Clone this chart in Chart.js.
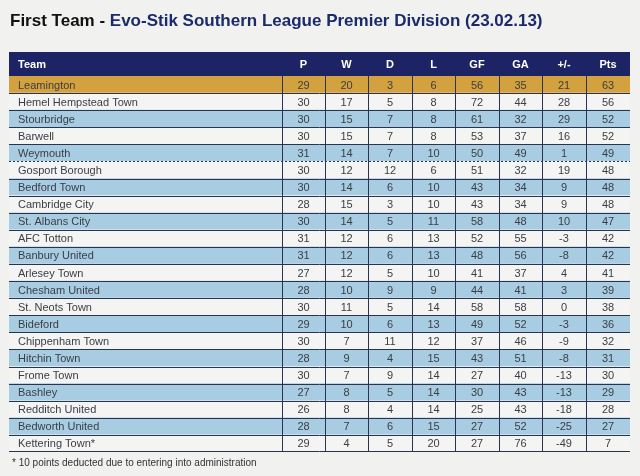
<!DOCTYPE html>
<html>
<head>
<meta charset="utf-8">
<script src="https://cdn.jsdelivr.net/npm/chart.js@4"></script>
<style>
  body { margin: 0; background: #f1f1ef; font-family: 'Liberation Sans', Arial, sans-serif; }
  #wrap { position: relative; width: 640px; height: 476px; }
  #title { position: absolute; left: 10px; top: 11px; font-size: 17px; font-weight: bold; color: #111; white-space: nowrap; }
  #title span { color: #1b2a6b; }
  #note { position: absolute; left: 12px; top: 457px; font-size: 10px; color: #333; }
</style>
</head>
<body>
<div id="wrap">
  <div id="title">First Team - <span>Evo-Stik Southern League Premier Division (23.02.13)</span></div>
  <canvas id="table" width="640" height="476"></canvas>
  <div id="note">* 10 points deducted due to entering into administration</div>
</div>
<script>
const headers = ['Team', 'P', 'W', 'D', 'L', 'GF', 'GA', '+/-', 'Pts'];
const teams = ['Leamington', 'Hemel Hempstead Town', 'Stourbridge', 'Barwell', 'Weymouth',
  'Gosport Borough', 'Bedford Town', 'Cambridge City', 'St. Albans City', 'AFC Totton',
  'Banbury United', 'Arlesey Town', 'Chesham United', 'St. Neots Town', 'Bideford',
  'Chippenham Town', 'Hitchin Town', 'Frome Town', 'Bashley', 'Redditch United',
  'Bedworth United', 'Kettering Town*'];
const played = [29, 30, 30, 30, 31, 30, 30, 28, 30, 31, 31, 27, 28, 30, 29, 30, 28, 30, 27, 26, 28, 29];
const won = [20, 17, 15, 15, 14, 12, 14, 15, 14, 12, 12, 12, 10, 11, 10, 7, 9, 7, 8, 8, 7, 4];
const drawn = [3, 5, 7, 7, 7, 12, 6, 3, 5, 6, 6, 5, 9, 5, 6, 11, 4, 9, 5, 4, 6, 5];
const lost = [6, 8, 8, 8, 10, 6, 10, 10, 11, 13, 13, 10, 9, 14, 13, 12, 15, 14, 14, 14, 15, 20];
const goalsFor = [56, 72, 61, 53, 50, 51, 43, 43, 58, 52, 48, 41, 44, 58, 49, 37, 43, 27, 30, 25, 27, 27];
const goalsAgainst = [35, 44, 32, 37, 49, 32, 34, 34, 48, 55, 56, 37, 41, 58, 52, 46, 51, 40, 43, 43, 52, 76];
const goalDiff = [21, 28, 29, 16, 1, 19, 9, 9, 10, -3, -8, 4, 3, 0, -3, -9, -8, -13, -13, -18, -25, -49];
const points = [63, 56, 52, 52, 49, 48, 48, 48, 47, 42, 42, 41, 39, 38, 36, 32, 31, 30, 29, 28, 27, 7];

const columns = [teams, played, won, drawn, lost, goalsFor, goalsAgainst, goalDiff, points];
const colEdges = [0, 273, 316, 359, 403, 446, 490, 533, 577, 621];

const rowColors = teams.map((t, i) => {
  if (i === 0) return '#d3a23e';
  return i % 2 === 1 ? '#f4f4f2' : '#a8cde2';
});

const HEADER_H = 24;

const tablePlugin = {
  id: 'tableText',
  afterDatasetsDraw(chart) {
    const { ctx, chartArea, scales: { x, y } } = chart;
    const half = (y.getPixelForValue(1) - y.getPixelForValue(0)) / 2;
    const left = x.getPixelForValue(colEdges[0]);
    ctx.save();
    // header band
    ctx.fillStyle = '#1d2466';
    ctx.fillRect(left, chartArea.top - HEADER_H, chartArea.right - left, HEADER_H);
    // grid lines
    ctx.strokeStyle = '#2a3350';
    ctx.lineWidth = 1;
    teams.forEach((t, i) => {
      if (i === 0) return;
      const py = Math.round(y.getPixelForValue(i) - half) + 0.5;
      ctx.setLineDash(i === 5 ? [2, 2] : []);
      ctx.beginPath();
      ctx.moveTo(chartArea.left, py);
      ctx.lineTo(chartArea.right, py);
      ctx.stroke();
    });
    ctx.setLineDash([]);
    colEdges.slice(1, -1).forEach((e) => {
      const px = Math.round(x.getPixelForValue(e)) + 0.5;
      ctx.beginPath();
      ctx.moveTo(px, chartArea.top);
      ctx.lineTo(px, chartArea.bottom);
      ctx.stroke();
    });
    ctx.beginPath();
    ctx.moveTo(chartArea.left, chartArea.bottom - 0.5);
    ctx.lineTo(chartArea.right, chartArea.bottom - 0.5);
    ctx.stroke();
    // header text
    ctx.textBaseline = 'middle';
    ctx.font = 'bold 11px "Liberation Sans", Arial, sans-serif';
    ctx.fillStyle = '#ffffff';
    const hy = chartArea.top - HEADER_H / 2 + 1;
    headers.forEach((h, c) => {
      if (c === 0) {
        ctx.textAlign = 'left';
        ctx.fillText(h, left + 9, hy);
      } else {
        ctx.textAlign = 'center';
        ctx.fillText(h, x.getPixelForValue((colEdges[c] + colEdges[c + 1]) / 2), hy);
      }
    });
    // body text
    ctx.font = '11px "Liberation Sans", Arial, sans-serif';
    ctx.fillStyle = '#3a3d45';
    teams.forEach((t, r) => {
      const py = y.getPixelForValue(r) + 1;
      columns.forEach((col, c) => {
        if (c === 0) {
          ctx.textAlign = 'left';
          ctx.fillText(col[r], left + 9, py);
        } else {
          ctx.textAlign = 'center';
          ctx.fillText(String(col[r]), x.getPixelForValue((colEdges[c] + colEdges[c + 1]) / 2), py);
        }
      });
    });
    ctx.restore();
  },
};

new Chart(document.getElementById('table'), {
  type: 'bar',
  data: {
    labels: teams,
    datasets: [{
      data: teams.map(() => [colEdges[0], colEdges[colEdges.length - 1]]),
      backgroundColor: rowColors,
      borderWidth: 0,
      barPercentage: 1,
      categoryPercentage: 1,
    }],
  },
  options: {
    indexAxis: 'y',
    responsive: false,
    animation: false,
    layout: { padding: { left: 9, right: 10, top: 76, bottom: 24 } },
    plugins: { legend: { display: false }, tooltip: { enabled: false } },
    scales: {
      x: { display: false, min: colEdges[0], max: colEdges[colEdges.length - 1] },
      y: { display: false },
    },
  },
  plugins: [tablePlugin],
});
</script>
</body>
</html>
